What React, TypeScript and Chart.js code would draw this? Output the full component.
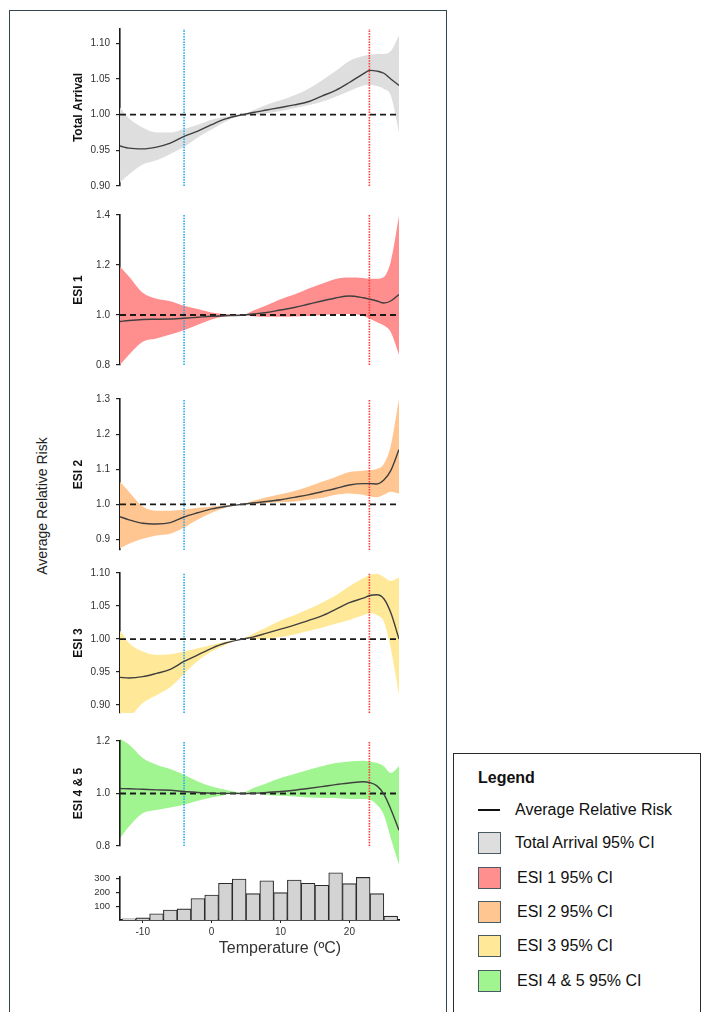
import React, { useEffect, useRef } from "react";
import { Chart, registerables } from "chart.js";

Chart.register(...registerables);

const FONT = "'Liberation Sans', Arial, Helvetica, sans-serif";
Chart.defaults.font.family = FONT;

// ---------- data ----------
const X_MIN = -13.3;
const X_MAX = 27.2;
const COLD_THRESHOLD = -4;
const HOT_THRESHOLD = 22.9;

const TEMPS = [-13.3, -12, -10, -8, -6, -4, -2, 0, 2, 4.5, 6, 8, 10, 12, 14, 16, 18, 20, 22, 23, 24, 25, 26, 27.2];

const TOTAL_MEAN = [0.956, 0.953, 0.952, 0.9545, 0.96, 0.9695, 0.977, 0.986, 0.994, 1.0, 1.003, 1.0065, 1.01, 1.0136, 1.018, 1.026, 1.034, 1.045, 1.057, 1.062, 1.061, 1.058, 1.05, 1.041];
const TOTAL_UPPER = [1.01, 0.995, 0.982, 0.975, 0.975, 0.98, 0.986, 0.993, 0.997, 1.0, 1.006, 1.014, 1.02, 1.027, 1.036, 1.048, 1.061, 1.075, 1.082, 1.084, 1.085, 1.085, 1.089, 1.111];
const TOTAL_LOWER = [0.905, 0.916, 0.93, 0.936, 0.945, 0.955, 0.968, 0.979, 0.99, 1.0, 1.0, 1.002, 1.005, 1.009, 1.013, 1.018, 1.025, 1.033, 1.041, 1.042, 1.04, 1.036, 1.027, 0.975];

const ESI1_MEAN = [0.974, 0.978, 0.982, 0.983, 0.984, 0.987, 0.991, 0.995, 0.997, 1.0, 1.004, 1.01, 1.02, 1.03, 1.043, 1.056, 1.068, 1.076, 1.069, 1.063, 1.056, 1.048, 1.056, 1.082];
const ESI1_UPPER = [1.193, 1.154, 1.089, 1.065, 1.055, 1.037, 1.024, 1.01, 1.004, 1.0, 1.017, 1.039, 1.063, 1.082, 1.105, 1.125, 1.144, 1.15, 1.148, 1.145, 1.145, 1.152, 1.213, 1.396];
const ESI1_LOWER = [0.801, 0.841, 0.893, 0.906, 0.922, 0.939, 0.961, 0.982, 0.995, 1.0, 0.995, 0.993, 0.993, 0.994, 0.996, 1.0, 1.003, 1.004, 0.997, 0.984, 0.971, 0.958, 0.932, 0.841];

const ESI2_MEAN = [0.965, 0.956, 0.946, 0.944, 0.948, 0.964, 0.976, 0.987, 0.994, 1.0, 1.004, 1.008, 1.013, 1.02, 1.027, 1.036, 1.045, 1.055, 1.059, 1.059, 1.058, 1.069, 1.096, 1.156];
const ESI2_UPPER = [1.064, 1.036, 0.994, 0.982, 0.982, 0.985, 0.99, 0.994, 0.997, 1.0, 1.01, 1.02, 1.029, 1.038, 1.05, 1.064, 1.078, 1.092, 1.096, 1.098, 1.101, 1.115, 1.166, 1.3];
const ESI2_LOWER = [0.874, 0.888, 0.902, 0.911, 0.916, 0.934, 0.957, 0.976, 0.99, 1.0, 1.001, 1.004, 1.006, 1.008, 1.013, 1.018, 1.027, 1.031, 1.027, 1.022, 1.02, 1.027, 1.036, 1.031];

const ESI3_MEAN = [0.942, 0.941, 0.943, 0.948, 0.954, 0.966, 0.976, 0.986, 0.994, 1.0, 1.003, 1.009, 1.015, 1.021, 1.028, 1.035, 1.045, 1.055, 1.062, 1.066, 1.067, 1.061, 1.04, 1.0];
const ESI3_UPPER = [1.013, 0.994, 0.981, 0.976, 0.977, 0.981, 0.986, 0.991, 0.996, 1.0, 1.008, 1.018, 1.028, 1.036, 1.045, 1.055, 1.066, 1.08, 1.092, 1.097, 1.099, 1.094, 1.088, 1.093];
const ESI3_LOWER = [0.88, 0.882, 0.903, 0.915, 0.927, 0.947, 0.967, 0.981, 0.991, 1.0, 1.0, 1.001, 1.003, 1.007, 1.012, 1.017, 1.023, 1.029, 1.036, 1.039, 1.036, 1.026, 0.986, 0.915];

const ESI45_MEAN = [1.019, 1.018, 1.016, 1.014, 1.0125, 1.0075, 1.004, 1.001, 1.0005, 1.0, 1.001, 1.004, 1.0075, 1.0125, 1.019, 1.026, 1.034, 1.04, 1.045, 1.041, 1.029, 0.9975, 0.941, 0.86];
const ESI45_UPPER = [1.2, 1.179, 1.129, 1.104, 1.0875, 1.066, 1.041, 1.0225, 1.01, 1.0, 1.016, 1.035, 1.054, 1.069, 1.084, 1.098, 1.11, 1.116, 1.119, 1.116, 1.11, 1.098, 1.0725, 1.098];
const ESI45_LOWER = [0.829, 0.8725, 0.9225, 0.935, 0.944, 0.954, 0.969, 0.981, 0.991, 1.0, 0.9975, 0.991, 0.9875, 0.985, 0.981, 0.979, 0.979, 0.976, 0.976, 0.9725, 0.954, 0.916, 0.83, 0.73];

const HIST_CENTERS = [-12, -10, -8, -6, -4, -2, 0, 2, 4, 6, 8, 10, 12, 14, 16, 18, 20, 22, 24, 26];
const HIST_COUNTS = [8, 15, 45, 72, 80, 155, 180, 265, 295, 190, 283, 197, 288, 265, 250, 340, 262, 307, 190, 28];
const HIST_X_TICKS = [-10, 0, 10, 20];
const HIST_Y_TICKS = [100, 200, 300];

const LEGEND_ITEMS = ["Total Arrival 95% CI", "ESI 1 95% CI", "ESI 2 95% CI", "ESI 3 95% CI", "ESI 4 & 5 95% CI"];

type PanelDef = {
  title: string;
  mean: number[];
  upper: number[];
  lower: number[];
  band: string;
  ymin: number;
  ymax: number;
  ticks: number[];
  digits: number;
  top: number;
  height: number;
  padBottom: number;
  bandMin?: number;
};

const BAND_COLORS = ["#dedede", "#ff8f8f", "#ffc692", "#ffe998", "#a0f590"];

const PANELS: PanelDef[] = [
  { title: "Total Arrival", mean: TOTAL_MEAN, upper: TOTAL_UPPER, lower: TOTAL_LOWER, band: BAND_COLORS[0], ymin: 0.9, ymax: 1.12, ticks: [0.9, 0.95, 1.0, 1.05, 1.1], digits: 2, top: 17, height: 181, padBottom: 10 },
  { title: "ESI 1", mean: ESI1_MEAN, upper: ESI1_UPPER, lower: ESI1_LOWER, band: BAND_COLORS[1], ymin: 0.8, ymax: 1.4, ticks: [0.8, 1.0, 1.2, 1.4], digits: 1, top: 203, height: 174, padBottom: 10 },
  { title: "ESI 2", mean: ESI2_MEAN, upper: ESI2_UPPER, lower: ESI2_LOWER, band: BAND_COLORS[2], ymin: 0.87, ymax: 1.3, ticks: [0.9, 1.0, 1.1, 1.2, 1.3], digits: 1, top: 387, height: 175, padBottom: 10 },
  { title: "ESI 3", mean: ESI3_MEAN, upper: ESI3_UPPER, lower: ESI3_LOWER, band: BAND_COLORS[3], ymin: 0.888, ymax: 1.1, ticks: [0.9, 0.95, 1.0, 1.05, 1.1], digits: 2, top: 561, height: 164, padBottom: 10 },
  { title: "ESI 4 & 5", mean: ESI45_MEAN, upper: ESI45_UPPER, lower: ESI45_LOWER, band: BAND_COLORS[4], ymin: 0.8, ymax: 1.2, ticks: [0.8, 1.0, 1.2], digits: 1, top: 729, height: 140, padBottom: 23, bandMin: 0.72 },
];

const CANVAS_LEFT = 60;
const CANVAS_WIDTH = 345;
const AXIS_WIDTH = 60;
const PAD_TOP = 10;
const PAD_RIGHT = 6;

function pts(arr: number[]) {
  return TEMPS.map((t, i) => ({ x: t, y: arr[i] }));
}

const curve = { pointRadius: 0, tension: 0.4, cubicInterpolationMode: "monotone" };

function bandDatasets(p: PanelDef) {
  return [
    { ...curve, data: pts(p.upper), borderColor: "rgba(0,0,0,0)", borderWidth: 0, backgroundColor: p.band, fill: "+1" },
    { ...curve, data: pts(p.lower), borderColor: "rgba(0,0,0,0)", borderWidth: 0, fill: false },
  ];
}

const baseOptions = {
  animation: false,
  responsive: false,
  devicePixelRatio: 1,
  events: [],
  plugins: { legend: { display: false }, tooltip: { enabled: false } },
};

function panelConfig(p: PanelDef): any {
  const lines: any[] = [
    { ...curve, data: pts(p.mean), borderColor: "#3f3f3f", borderWidth: 1.4, fill: false },
    { data: [{ x: X_MIN, y: 1 }, { x: X_MAX, y: 1 }], borderColor: "#1a1a1a", borderWidth: 1.8, borderDash: [6, 4], pointRadius: 0, fill: false },
    { data: [{ x: COLD_THRESHOLD, y: p.ymin }, { x: COLD_THRESHOLD, y: p.ymax }], borderColor: "#22acee", borderWidth: 1.6, borderDash: [1.5, 1.2], pointRadius: 0, fill: false },
    { data: [{ x: HOT_THRESHOLD, y: p.ymin }, { x: HOT_THRESHOLD, y: p.ymax }], borderColor: "#ff3a3a", borderWidth: 1.6, borderDash: [1.5, 1.2], pointRadius: 0, fill: false },
  ];
  const datasets = p.bandMin === undefined ? lines.concat(bandDatasets(p)) : lines;
  return {
    type: "line",
    data: { datasets },
    options: {
      ...baseOptions,
      layout: { padding: { top: PAD_TOP, bottom: p.padBottom, left: 0, right: PAD_RIGHT } },
      scales: {
        x: { type: "linear", display: false, min: X_MIN, max: X_MAX },
        y: {
          type: "linear",
          min: p.ymin,
          max: p.ymax,
          afterBuildTicks: (s: any) => {
            s.ticks = p.ticks.map((v) => ({ value: v }));
          },
          afterFit: (s: any) => {
            s.width = AXIS_WIDTH;
          },
          ticks: { font: { family: FONT, size: 10 }, color: "#333", padding: 6, callback: (v: any) => Number(v).toFixed(p.digits) },
          grid: { display: true, drawOnChartArea: false, drawTicks: true, tickLength: 4, color: "#222", lineWidth: 1.2 },
          border: { display: true, color: "#1a1a1a", width: 1.6 },
          title: { display: true, text: p.title, font: { family: FONT, size: 12, weight: "bold" }, color: "#111", padding: { top: 11, bottom: 0 } },
        },
      },
    },
  };
}

// Band drawn on its own canvas (same pixel mapping, wider value range) so it can run past the axis bottom.
function bandConfig(p: PanelDef): any {
  const plotH = p.height - PAD_TOP - p.padBottom;
  const pxPerUnit = plotH / (p.ymax - p.ymin);
  const bandMin = p.bandMin as number;
  const bandH = (p.ymax - bandMin) * pxPerUnit;
  const padBottom = p.height - PAD_TOP - bandH;
  return {
    type: "line",
    data: { datasets: bandDatasets(p) },
    options: {
      ...baseOptions,
      layout: { padding: { top: PAD_TOP, bottom: padBottom, left: AXIS_WIDTH, right: PAD_RIGHT } },
      scales: {
        x: { type: "linear", display: false, min: X_MIN, max: X_MAX },
        y: { type: "linear", display: false, min: bandMin, max: p.ymax },
      },
    },
  };
}

function histConfig(): any {
  return {
    type: "bar",
    data: {
      datasets: [
        {
          data: HIST_CENTERS.map((c, i) => ({ x: c, y: HIST_COUNTS[i] })),
          backgroundColor: "#d3d3d3",
          borderColor: "#2a2a2a",
          borderWidth: 1.1,
          barPercentage: 1,
          categoryPercentage: 1,
          clip: false,
        },
      ],
    },
    options: {
      ...baseOptions,
      layout: { padding: { top: PAD_TOP, bottom: 0, left: 0, right: PAD_RIGHT } },
      scales: {
        x: {
          type: "linear",
          min: X_MIN,
          max: X_MAX,
          offset: false,
          afterBuildTicks: (s: any) => {
            s.ticks = HIST_X_TICKS.map((v) => ({ value: v }));
          },
          afterFit: (s: any) => {
            s.height = 20;
          },
          ticks: { font: { family: FONT, size: 10 }, color: "#333", padding: 3, maxRotation: 0 },
          grid: { display: true, offset: false, drawOnChartArea: false, drawTicks: true, tickLength: 3, color: "#222" },
          border: { display: true, color: "#111", width: 1.8 },
        },
        y: {
          type: "linear",
          min: 0,
          max: 312,
          afterBuildTicks: (s: any) => {
            s.ticks = HIST_Y_TICKS.map((v) => ({ value: v }));
          },
          afterFit: (s: any) => {
            s.width = AXIS_WIDTH;
          },
          ticks: { font: { family: FONT, size: 9.5 }, color: "#333", padding: 6 },
          grid: { display: true, drawOnChartArea: false, drawTicks: true, tickLength: 4, color: "#222", lineWidth: 1.2 },
          border: { display: true, color: "#1a1a1a", width: 1.6 },
        },
      },
    },
  };
}

function ChartCanvas({ make, left, top, width, height }: { make: () => any; left: number; top: number; width: number; height: number }) {
  const ref = useRef<HTMLCanvasElement>(null);
  useEffect(() => {
    const chart = new Chart(ref.current as HTMLCanvasElement, make());
    return () => chart.destroy();
  }, []);
  return <canvas ref={ref} width={width} height={height} style={{ position: "absolute", left, top, width, height }} />;
}

const LEGEND_FONT = "'Liberation Sans', Arial, sans-serif";

export default function App() {
  const swatchTops = [832, 867, 901, 935, 970];
  return (
    <div style={{ position: "absolute", left: 0, top: 0, width: 701, height: 1012, overflow: "hidden", background: "#fff" }}>
      <div style={{ position: "absolute", left: 9, top: 10, width: 438, height: 1020, border: "1.5px solid #33444c", boxSizing: "border-box" }} />
      {PANELS.map((p, i) =>
        p.bandMin !== undefined ? (
          <ChartCanvas key={"band" + i} make={() => bandConfig(p)} left={CANVAS_LEFT} top={p.top} width={CANVAS_WIDTH} height={p.height} />
        ) : null
      )}
      {PANELS.map((p, i) => (
        <ChartCanvas key={i} make={() => panelConfig(p)} left={CANVAS_LEFT} top={p.top} width={CANVAS_WIDTH} height={p.height} />
      ))}
      <ChartCanvas make={histConfig} left={CANVAS_LEFT} top={865} width={CANVAS_WIDTH} height={75} />
      <div
        style={{
          position: "absolute",
          left: 42,
          top: 506,
          transform: "translate(-50%, -50%) rotate(-90deg)",
          whiteSpace: "nowrap",
          fontFamily: LEGEND_FONT,
          fontSize: 14,
          color: "#222",
        }}
      >
        Average Relative Risk
      </div>
      <div
        style={{
          position: "absolute",
          left: 280,
          top: 948,
          transform: "translate(-50%, -50%)",
          whiteSpace: "nowrap",
          fontFamily: LEGEND_FONT,
          fontSize: 16,
          color: "#333",
        }}
      >
        Temperature (ºC)
      </div>
      <div style={{ position: "absolute", left: 453, top: 753, width: 248, height: 280, border: "1.5px solid #2a2a2a", boxSizing: "border-box" }} />
      <div style={{ position: "absolute", left: 478, top: 768, fontFamily: LEGEND_FONT, fontSize: 16, fontWeight: "bold", color: "#111", lineHeight: "20px" }}>Legend</div>
      <div style={{ position: "absolute", left: 478, top: 809, width: 22, height: 1.5, background: "#111" }} />
      <div style={{ position: "absolute", left: 515, top: 800, fontFamily: LEGEND_FONT, fontSize: 16, color: "#111", lineHeight: "20px", whiteSpace: "nowrap" }}>Average Relative Risk</div>
      {LEGEND_ITEMS.map((label, i) => (
        <React.Fragment key={label}>
          <div
            style={{
              position: "absolute",
              left: 478,
              top: swatchTops[i],
              width: 23,
              height: 22,
              background: BAND_COLORS[i],
              border: "1.5px solid #4a5a62",
              boxSizing: "border-box",
            }}
          />
          <div style={{ position: "absolute", left: i === 0 ? 515 : 517, top: swatchTops[i] + 1, fontFamily: LEGEND_FONT, fontSize: 16, color: "#111", lineHeight: "20px", whiteSpace: "nowrap" }}>
            {label}
          </div>
        </React.Fragment>
      ))}
    </div>
  );
}
